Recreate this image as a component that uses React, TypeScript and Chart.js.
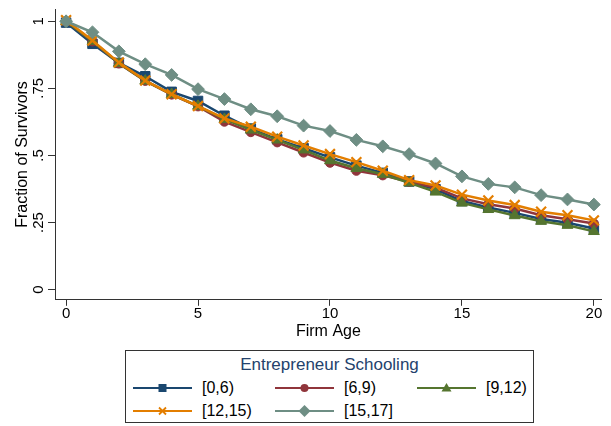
import React, { useEffect, useRef } from "react";
import { Chart, registerables } from "chart.js";

Chart.register(...registerables);

const FONT = "'Liberation Sans', Arial, Helvetica, sans-serif";

// Survival curves by entrepreneur schooling group
const firmAge = [0, 1, 2, 3, 4, 5, 6, 7, 8, 9, 10, 11, 12, 13, 14, 15, 16, 17, 18, 19, 20];
const school0to6 = [0.995, 0.916, 0.845, 0.795, 0.737, 0.703, 0.648, 0.600, 0.560, 0.527, 0.493, 0.462, 0.435, 0.403, 0.374, 0.330, 0.306, 0.286, 0.263, 0.249, 0.228];
const school6to9 = [1.0, 0.925, 0.843, 0.778, 0.727, 0.683, 0.626, 0.587, 0.549, 0.511, 0.473, 0.443, 0.426, 0.402, 0.380, 0.340, 0.318, 0.302, 0.277, 0.262, 0.246];
const school9to12 = [1.0, 0.926, 0.844, 0.778, 0.728, 0.684, 0.635, 0.595, 0.558, 0.521, 0.481, 0.452, 0.430, 0.398, 0.364, 0.323, 0.299, 0.276, 0.255, 0.240, 0.217];
const school12to15 = [1.004, 0.928, 0.846, 0.779, 0.728, 0.684, 0.638, 0.607, 0.570, 0.537, 0.505, 0.475, 0.443, 0.408, 0.388, 0.354, 0.332, 0.315, 0.290, 0.277, 0.258];
const school15to17 = [1.0, 0.959, 0.888, 0.840, 0.800, 0.747, 0.710, 0.672, 0.646, 0.611, 0.591, 0.558, 0.534, 0.505, 0.470, 0.422, 0.394, 0.381, 0.352, 0.336, 0.317];

const seriesLabels = ["[0,6)", "[6,9)", "[9,12)", "[12,15)", "[15,17]"];
const seriesValues = [school0to6, school6to9, school9to12, school12to15, school15to17];
const seriesColors = ["#1a476f", "#90353b", "#55752f", "#e37e00", "#6e8e84"];
const seriesMarkers = ["rect", "circle", "triangle", "crossRot", "rectRot"];
const markerRadius = [6.7, 4.6, 6.3, 7, 6.4];

const xTicks = [0, 5, 10, 15, 20];
const yTicks = [0, 0.25, 0.5, 0.75, 1];
const yTickLabels = ["0", ".25", ".5", ".75", "1"];

const legendTitle = "Entrepreneur Schooling";
const xTitle = "Firm Age";
const yTitle = "Fraction of Survivors";

// Rotated y tick labels, placed at the scale's own tick pixels
const yTickLabelPlugin = {
  id: "yTickLabelsRotated",
  afterDraw(chart: any) {
    const scale = chart.scales.y;
    const ctx = chart.ctx;
    ctx.save();
    ctx.font = `15px ${FONT}`;
    ctx.fillStyle = "#000";
    ctx.textAlign = "center";
    ctx.textBaseline = "middle";
    scale.ticks.forEach((t: any) => {
      const idx = yTicks.indexOf(t.value);
      const py = scale.getPixelForValue(t.value);
      ctx.save();
      ctx.translate(scale.right - 16, py);
      ctx.rotate(-Math.PI / 2);
      ctx.fillText(idx >= 0 ? yTickLabels[idx] : String(t.value), 0, 0);
      ctx.restore();
    });
    ctx.restore();
  },
};

function LegendMarker({ kind, color }: { kind: string; color: string }) {
  const cx = 29.5;
  const cy = 10;
  let mark: React.ReactNode = null;
  if (kind === "rect") mark = <rect x={cx - 4} y={cy - 4} width={8} height={8} fill={color} />;
  else if (kind === "circle") mark = <circle cx={cx} cy={cy} r={4} fill={color} />;
  else if (kind === "triangle")
    mark = <polygon points={`${cx},${cy - 5} ${cx + 5},${cy + 3.5} ${cx - 5},${cy + 3.5}`} fill={color} />;
  else if (kind === "crossRot")
    mark = (
      <path d={`M${cx - 3.5},${cy - 3.5} L${cx + 3.5},${cy + 3.5} M${cx + 3.5},${cy - 3.5} L${cx - 3.5},${cy + 3.5}`} stroke={color} strokeWidth={1.8} />
    );
  else if (kind === "rectRot")
    mark = <polygon points={`${cx},${cy - 6} ${cx + 6},${cy} ${cx},${cy + 6} ${cx - 6},${cy}`} fill={color} />;
  return (
    <svg width={59} height={20} style={{ display: "block" }}>
      <line x1={0} y1={cy} x2={59} y2={cy} stroke={color} strokeWidth={2} />
      {mark}
    </svg>
  );
}

export default function App() {
  const canvasRef = useRef<HTMLCanvasElement | null>(null);

  useEffect(() => {
    if (!canvasRef.current) return;
    const datasets = seriesValues.map((vals, i) => ({
      label: seriesLabels[i],
      data: firmAge.map((a, k) => ({ x: a, y: vals[k] })),
      borderColor: seriesColors[i],
      backgroundColor: seriesColors[i],
      pointBackgroundColor: seriesColors[i],
      pointBorderColor: seriesColors[i],
      pointBorderWidth: seriesMarkers[i] === "crossRot" ? 2.2 : 1,
      pointStyle: seriesMarkers[i],
      pointRadius: markerRadius[i],
      borderWidth: 2.5,
      tension: 0,
      fill: false,
      order: seriesValues.length - i,
    }));

    const chart = new Chart(canvasRef.current, {
      type: "line",
      data: { datasets },
      plugins: [yTickLabelPlugin],
      options: {
        animation: false,
        responsive: false,
        devicePixelRatio: 1,
        layout: { padding: { left: 0, top: 7, right: 8, bottom: 85 } },
        plugins: { legend: { display: false }, tooltip: { enabled: false } },
        scales: {
          x: {
            type: "linear",
            min: -0.42,
            max: 20.3,
            afterBuildTicks: (scale: any) => {
              scale.ticks = xTicks.map((v) => ({ value: v }));
            },
            ticks: {
              color: "#000",
              font: { family: FONT, size: 15 },
              padding: -1,
              maxRotation: 0,
              autoSkip: false,
              callback: (v: any) => String(v),
            },
            grid: { drawOnChartArea: false, drawTicks: true, tickLength: 6, color: "#333" },
            border: { display: true, color: "#333", width: 1 },
            title: {
              display: true,
              text: xTitle,
              color: "#000",
              font: { family: FONT, size: 16 },
              padding: { top: 0, bottom: 0 },
            },
          },
          y: {
            type: "linear",
            min: -0.038,
            max: 1.045,
            afterBuildTicks: (scale: any) => {
              scale.ticks = yTicks.map((v) => ({ value: v }));
            },
            ticks: { display: false },
            grid: { drawOnChartArea: false, drawTicks: true, tickLength: 7, color: "#333" },
            border: { display: true, color: "#333", width: 1 },
            title: {
              display: true,
              text: yTitle,
              color: "#000",
              font: { family: FONT, size: 16 },
              padding: { top: 13.4, bottom: 15.4 },
            },
          },
        },
      },
    } as any);
    return () => chart.destroy();
  }, []);

  const colX = [8, 150, 292];
  const rowY = [38, 61];

  return (
    <div style={{ position: "fixed", left: 0, top: 0, width: 611, height: 426, background: "#fff", fontFamily: FONT }}>
      <canvas ref={canvasRef} width={611} height={426} style={{ position: "absolute", left: 0, top: 0 }} />
      <div
        style={{
          position: "absolute",
          left: 125,
          top: 350,
          width: 409,
          height: 73,
          boxSizing: "border-box",
          border: "1px solid #333",
          background: "#fff",
        }}
      >
        <div
          style={{
            position: "absolute",
            left: 0,
            right: 0,
            top: 4,
            textAlign: "center",
            fontSize: 17,
            lineHeight: "20px",
            color: "#24426c",
          }}
        >
          {legendTitle}
        </div>
        {seriesLabels.map((lab, i) => (
          <div
            key={lab}
            style={{
              position: "absolute",
              left: colX[i % 3] - 1,
              top: rowY[Math.floor(i / 3)] - 11,
              height: 20,
              display: "flex",
              alignItems: "center",
              whiteSpace: "nowrap",
            }}
          >
            <LegendMarker kind={seriesMarkers[i]} color={seriesColors[i]} />
            <span style={{ marginLeft: 10, fontSize: 16, lineHeight: "20px", color: "#000" }}>{lab}</span>
          </div>
        ))}
      </div>
    </div>
  );
}
